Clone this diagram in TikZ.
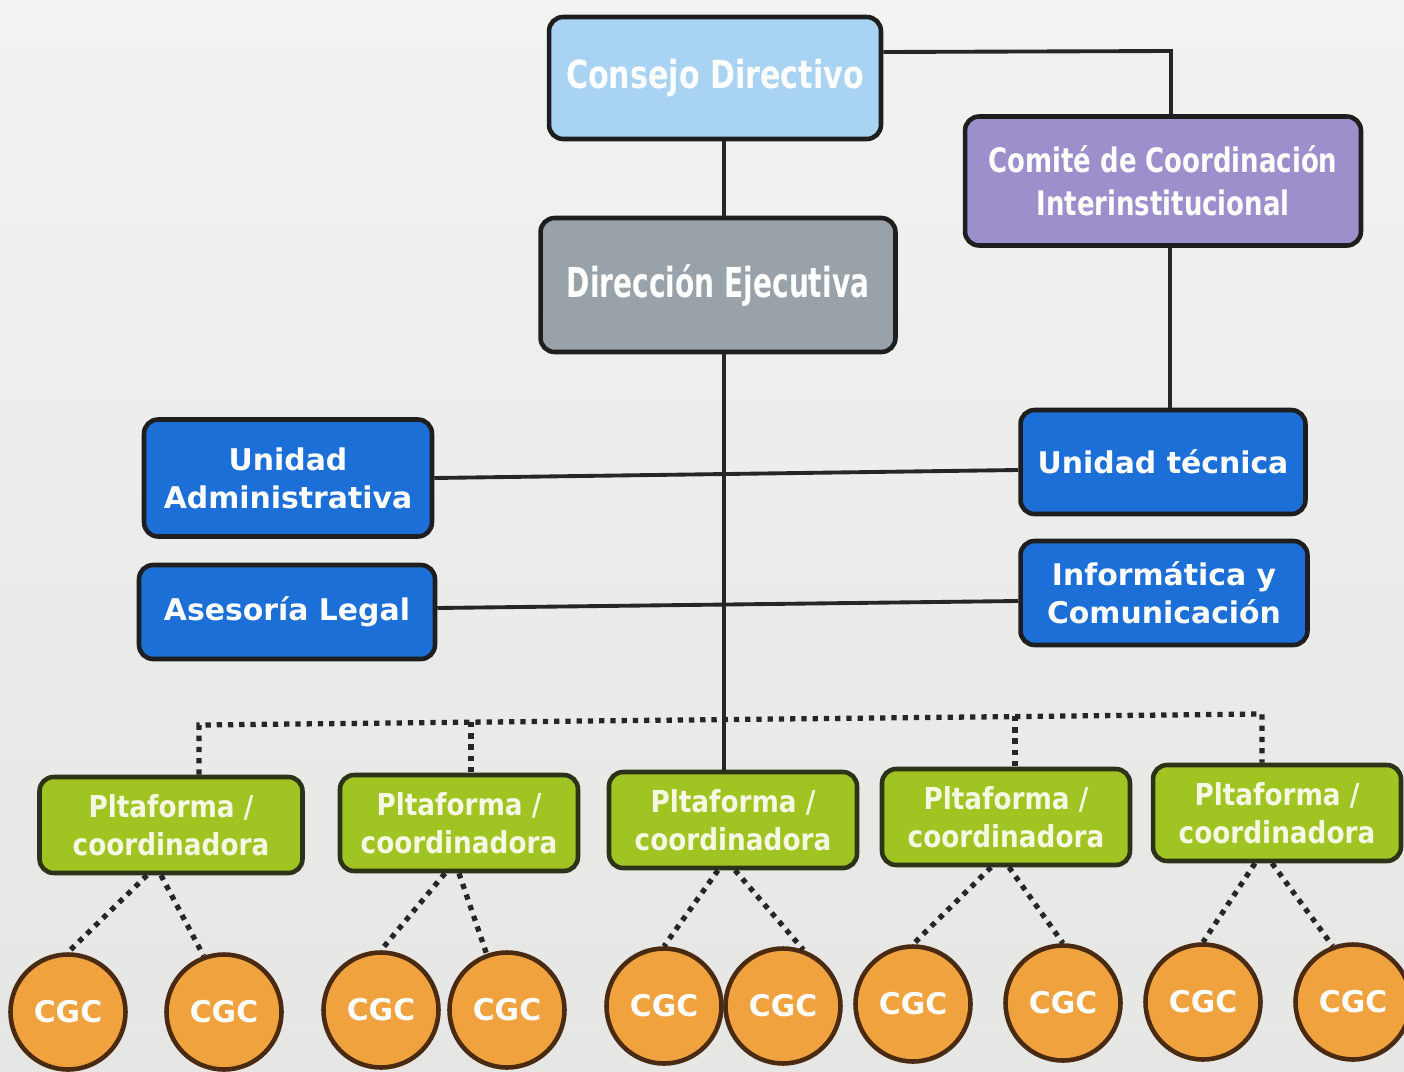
\documentclass[tikz,border=0pt]{standalone}
\usepackage{fontspec}
\setmainfont{DejaVu Sans}
\newfontfamily\fCD[FakeStretch=0.78]{DejaVu Sans}
\newfontfamily\fCCI[FakeStretch=0.77]{DejaVu Sans}
\newfontfamily\fDE[FakeStretch=0.68]{DejaVu Sans}
\newfontfamily\fPL[FakeStretch=0.87]{DejaVu Sans}
\usetikzlibrary{calc}
\definecolor{bgtop}{HTML}{F2F2F0}
\definecolor{bgbot}{HTML}{E6E6E4}
\definecolor{boxline}{HTML}{1E1E1E}
\definecolor{lineclr}{HTML}{262626}
\definecolor{cdblue}{HTML}{A9D3F2}
\definecolor{ccipurple}{HTML}{9C8FCB}
\definecolor{degray}{HTML}{98A2A8}
\definecolor{unitblue}{HTML}{1C6FD6}
\definecolor{plgreen}{HTML}{A0C422}
\definecolor{plline}{HTML}{2C3318}
\definecolor{cgcorange}{HTML}{EFA23E}
\definecolor{cgcline}{HTML}{4A2B12}
\definecolor{pltext}{HTML}{F6F8E4}
\tikzset{
  orgbox/.style={rectangle, rounded corners=8pt, draw=boxline, line width=2.6pt,
    text=white, align=center, inner sep=0pt},
  unitbox/.style={orgbox, fill=unitblue, minimum width=5.74cm, minimum height=2.08cm,
    font=\bfseries\fontsize{17}{21.6}\selectfont},
  platbox/.style={orgbox, fill=plgreen, draw=plline, text=pltext, minimum height=1.92cm,
    font=\fPL\bfseries\fontsize{17.2}{21.6}\selectfont},
  cgc/.style={circle, fill=cgcorange, draw=cgcline, line width=2.6pt, minimum size=2.3cm,
    inner sep=0pt, text=white, font=\bfseries\fontsize{17}{17}\selectfont},
  conn/.style={draw=lineclr, line width=2.2pt},
  dots/.style={draw=lineclr, line width=3pt, dash pattern=on 3pt off 3.4pt}
}
\begin{document}
\begin{tikzpicture}[x=0.02cm,y=-0.02cm]
\shade[top color=bgtop, bottom color=bgbot] (0,0) rectangle (1404,1072);
\useasboundingbox (0,0) rectangle (1404,1072);
\begin{scope}
\clip (0,0) rectangle (1404,1072);
% top level
\node[orgbox, fill=cdblue, minimum width=6.64cm, minimum height=2.44cm,
  font=\fCD\bfseries\fontsize{22}{26}\selectfont] (cd) at (715,78) {Consejo Directivo};
\node[orgbox, fill=ccipurple, minimum width=7.92cm, minimum height=2.58cm,
  font=\fCCI\bfseries\fontsize{19.2}{24.5}\selectfont] (cci) at (1163,181)
  {Comité de Coordinación\\Interinstitucional};
\node[orgbox, fill=degray, minimum width=7.10cm, minimum height=2.68cm,
  font=\fDE\bfseries\fontsize{23.5}{28}\selectfont] (de) at (718,285) {Dirección Ejecutiva};
% units
\node[unitbox, minimum width=5.76cm, minimum height=2.34cm] (ua) at (288,478) {Unidad\\Administrativa};
\node[unitbox, minimum width=5.92cm, minimum height=1.88cm] (al) at (287,612) {Asesoría Legal};
\node[unitbox, minimum width=5.70cm] (ut) at (1163,462) {Unidad técnica};
\node[unitbox] (ic) at (1164,593) {Informática y\\Comunicación};
% platforms
\node[platbox, minimum width=5.26cm] (p1) at (171,825) {Pltaforma /\\coordinadora};
\node[platbox, minimum width=4.76cm] (p2) at (459,823) {Pltaforma /\\coordinadora};
\node[platbox, minimum width=4.96cm] (p3) at (733,820) {Pltaforma /\\coordinadora};
\node[platbox, minimum width=4.96cm] (p4) at (1006,817) {Pltaforma /\\coordinadora};
\node[platbox, minimum width=4.96cm] (p5) at (1277,813) {Pltaforma /\\coordinadora};
% CGC circles
\node[cgc] (c1) at (68,1012) {CGC};
\node[cgc] (c2) at (224,1012) {CGC};
\node[cgc] (c3) at (381,1010) {CGC};
\node[cgc] (c4) at (507,1010) {CGC};
\node[cgc] (c5) at (664,1006) {CGC};
\node[cgc] (c6) at (783,1006) {CGC};
\node[cgc] (c7) at (913,1004) {CGC};
\node[cgc] (c8) at (1063,1003) {CGC};
\node[cgc] (c9) at (1203,1002) {CGC};
\node[cgc] (c10) at (1353,1002) {CGC};
% solid connectors
\coordinate (j1) at (1171,51);
\coordinate (sp) at (724,500);
\coordinate (rs) at (1170,300);
\draw[conn] ($(cd.east)+(0,-26)$) -- (j1) -- (j1 |- cci.north);
\draw[conn] (cd.south -| sp) -- (de.north -| sp);
\draw[conn] (de.south -| sp) -- (p3.north -| sp);
\draw[conn] (cci.south -| rs) -- (ut.north -| rs);
\draw[conn] (ua.east) -- ($(ut.west)+(0,8)$);
\draw[conn] ($(al.east)+(0,-4)$) -- ($(ic.west)+(0,8)$);
% dotted bus
\coordinate (b1) at (199,725);
\coordinate (b2) at (471,722);
\coordinate (b4) at (1015,716);
\coordinate (b5) at (1262,714);
\draw[dots] (p1.north -| b1) -- (b1) -- (b5) -- (p5.north -| b5);
\draw[dots] (b2) -- (p2.north -| b2);
\draw[dots] (b4) -- (p4.north -| b4);
% dotted to CGC
\draw[dots] ($(p1.south)+(-24,0)$) -- (c1.north);
\draw[dots] ($(p1.south)+(-10,0)$) -- (c2.110);
\draw[dots] ($(p2.south)+(-14,0)$) -- (c3.north);
\draw[dots] ($(p2.south)+(0,0)$) -- (c4.110);
\draw[dots] ($(p3.south)+(-15,0)$) -- (c5.north);
\draw[dots] ($(p3.south)+(2,0)$) -- (c6.70);
\draw[dots] ($(p4.south)+(-15,0)$) -- (c7.north);
\draw[dots] ($(p4.south)+(3,0)$) -- (c8.north);
\draw[dots] ($(p5.south)+(-22,0)$) -- (c9.north);
\draw[dots] ($(p5.south)+(-5,0)$) -- (c10.110);
\end{scope}
\end{tikzpicture}
\end{document}
